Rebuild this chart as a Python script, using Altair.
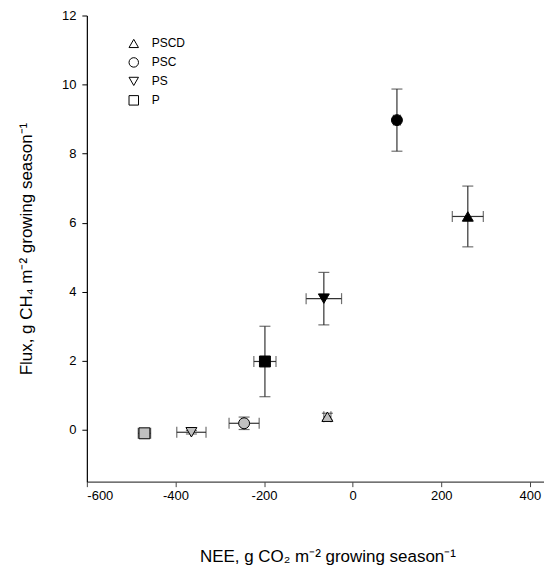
import altair as alt
import pandas as pd

# ---- data ----
treatments = ["PSCD", "PSC", "PS", "P", "PSCD", "PSC", "PS", "P"]
group = ["dark", "dark", "dark", "dark", "light", "light", "light", "light"]
nee = [260, 100, -65, -198, -57, -245, -364, -470]
nee_err = [35, 8, 40, 25, 8, 34, 33, 14]
flux = [6.18, 8.97, 3.80, 1.98, 0.38, 0.19, -0.07, -0.10]
flux_err = [0.88, 0.90, 0.76, 1.02, 0.10, 0.18, 0.05, 0.08]

legend_order = ["PSCD", "PSC", "PS", "P"]
shapes = ["triangle-up", "circle", "triangle-down", "square"]
x_ticks = [-600, -400, -200, 0, 200, 400]
y_ticks = [0, 2, 4, 6, 8, 10, 12]

df = pd.DataFrame({
    "treatment": treatments,
    "group": group,
    "nee": nee,
    "nee_err": nee_err,
    "flux": flux,
    "flux_err": flux_err,
})
df["nee_lo"] = df["nee"] - df["nee_err"]
df["nee_hi"] = df["nee"] + df["nee_err"]
df["flux_lo"] = df["flux"] - df["flux_err"]
df["flux_hi"] = df["flux"] + df["flux_err"]

FONT = "Liberation Sans"
xscale = alt.Scale(domain=[-600, 432], nice=False, zero=False)
yscale = alt.Scale(domain=[-1.5, 12], nice=False, zero=False)
hyphen = "replace(datum.label, '\u2212', '-')"

xaxis = alt.Axis(values=x_ticks, grid=False, tickSize=5, labelPadding=3, labelExpr=hyphen,
                 title="NEE, g CO₂ m⁻² growing season⁻¹", titlePadding=46, titleX=241,
                 domainColor="#444", tickColor="#444")
yaxis = alt.Axis(values=y_ticks, grid=False, tickSize=5, labelPadding=6,
                 title="Flux, g CH₄ m⁻² growing season⁻¹", titlePadding=26,
                 domainColor="black", tickColor="black")

base = alt.Chart(df)
ERR = "#333333"

xbar = base.mark_rule(color=ERR, strokeWidth=1.2).encode(
    x=alt.X("nee_lo:Q", scale=xscale, axis=xaxis),
    x2="nee_hi:Q",
    y=alt.Y("flux:Q", scale=yscale, axis=yaxis),
)
ybar = base.mark_rule(color=ERR, strokeWidth=1.2).encode(
    x=alt.X("nee:Q", scale=xscale),
    y=alt.Y("flux_lo:Q", scale=yscale),
    y2="flux_hi:Q",
)
ycap_lo = base.mark_tick(orient="horizontal", size=11, thickness=1.2, color=ERR).encode(
    x=alt.X("nee:Q", scale=xscale), y=alt.Y("flux_lo:Q", scale=yscale))
ycap_hi = base.mark_tick(orient="horizontal", size=11, thickness=1.2, color=ERR).encode(
    x=alt.X("nee:Q", scale=xscale), y=alt.Y("flux_hi:Q", scale=yscale))
xcap_lo = base.mark_tick(orient="vertical", size=11, thickness=1.2, color=ERR).encode(
    x=alt.X("nee_lo:Q", scale=xscale), y=alt.Y("flux:Q", scale=yscale))
xcap_hi = base.mark_tick(orient="vertical", size=11, thickness=1.2, color=ERR).encode(
    x=alt.X("nee_hi:Q", scale=xscale), y=alt.Y("flux:Q", scale=yscale))

points = base.mark_point(filled=True, size=120, stroke="black", strokeWidth=1, opacity=1).encode(
    x=alt.X("nee:Q", scale=xscale),
    y=alt.Y("flux:Q", scale=yscale),
    shape=alt.Shape("treatment:N",
                    scale=alt.Scale(domain=legend_order, range=shapes),
                    legend=alt.Legend(title=None, orient="none", legendX=41, legendY=22,
                                      symbolFillColor="white", symbolStrokeColor="black",
                                      symbolStrokeWidth=1, symbolSize=90, labelOffset=12,
                                      labelFont=FONT, labelFontSize=12, rowPadding=5,
                                      padding=0)),
    fill=alt.Fill("group:N", scale=alt.Scale(domain=["dark", "light"], range=["black", "#c0c0c0"]),
                  legend=None),
)

chart = alt.layer(xbar, ybar, ycap_lo, ycap_hi, xcap_lo, xcap_hi, points).properties(
    width=458, height=467,
    autosize=alt.AutoSizeParams(type="none"),
    padding={"left": 79, "top": 7, "right": 0, "bottom": 85},
).configure_view(stroke=None).configure_axis(
    labelFont=FONT, labelFontSize=13, labelColor="black",
    titleFont=FONT, titleFontSize=17, titleFontWeight="normal", titleColor="black",
    domainWidth=1.2,
)

chart.save("out.html", embed_options={"renderer": "svg", "actions": False})
